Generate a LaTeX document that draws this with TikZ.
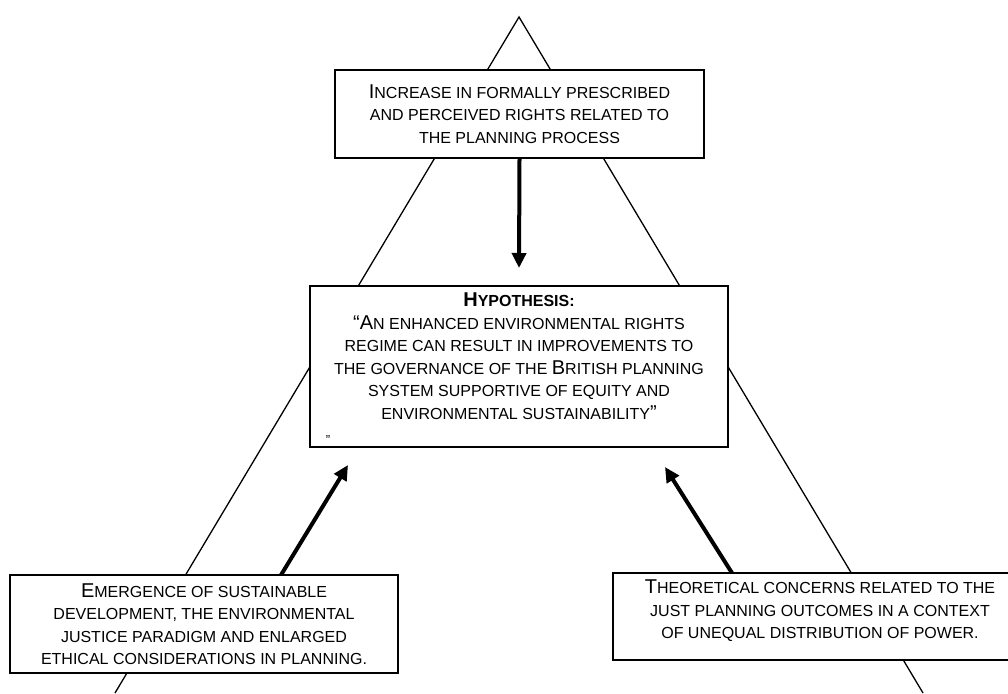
\documentclass[tikz,border=0pt]{standalone}
\usepackage{fontspec}
\setmainfont{Liberation Sans}
\usetikzlibrary{arrows.meta}
\newcommand{\bigc}[1]{{\fontsize{20}{22}\selectfont #1}}
\begin{document}
\begin{tikzpicture}[x=1pt,y=-1pt,
  tri/.style={line width=1.3pt},
  box/.style={draw, line width=1.5pt, fill=white, inner sep=0pt, align=center,
    font=\fontsize{16}{22.5}\selectfont},
  txt/.style={inner sep=0pt, align=center, font=\fontsize{16}{22.5}\selectfont},
  arr/.style={line width=4pt, -{Triangle[length=15pt,width=14pt]}}]
\useasboundingbox (0,0) rectangle (1008,693);
\fill[white] (0,0) rectangle (1008,693);
\coordinate (apex) at (519,17);
\coordinate (bl) at (115,693);
\coordinate (br) at (923,693);
\draw[tri] (bl) -- (apex) -- (br);
\node[box, minimum width=369pt, minimum height=88pt] (top) at (519.5,114)
  {\bigc{I}NCREASE IN FORMALLY PRESCRIBED\\AND PERCEIVED RIGHTS RELATED TO\\THE PLANNING PROCESS};
\node[box, minimum width=418pt, minimum height=161pt] (hyp) at (519,366.5) {};
\node[txt] (hyptext) at (519,356)
  {\textbf{\bigc{H}YPOTHESIS:}\\
   \bigc{``A}N ENHANCED ENVIRONMENTAL RIGHTS\\
   REGIME CAN RESULT IN IMPROVEMENTS TO\\
   THE GOVERNANCE OF THE \bigc{B}RITISH PLANNING\\
   SYSTEM SUPPORTIVE OF EQUITY AND\\
   ENVIRONMENTAL SUSTAINABILITY\bigc{''}};
\node[inner sep=0pt, font=\fontsize{13}{13}\selectfont] (stray) at (328,440) {''};
\node[box, minimum width=388pt, minimum height=98pt] (left) at (204,624)
  {\bigc{E}MERGENCE OF SUSTAINABLE\\DEVELOPMENT, THE ENVIRONMENTAL\\JUSTICE PARADIGM AND ENLARGED\\ETHICAL CONSIDERATIONS IN PLANNING.};
\node[box, minimum width=400pt, minimum height=87pt] (rightbox) at (813,616.5) {};
\node[txt] (righttext) at (820,611)
  {\bigc{T}HEORETICAL CONCERNS RELATED TO THE\\JUST PLANNING OUTCOMES IN A CONTEXT\\OF UNEQUAL DISTRIBUTION OF POWER.};
\coordinate (t1) at (519,268);
\coordinate (s2) at (281,575);
\coordinate (t2) at (348,465);
\coordinate (s3) at (732,573);
\coordinate (t3) at (665,467);
\draw[arr] (top.south) -- (t1);
\draw[arr] (s2) -- (t2);
\draw[arr] (s3) -- (t3);
\end{tikzpicture}
\end{document}
